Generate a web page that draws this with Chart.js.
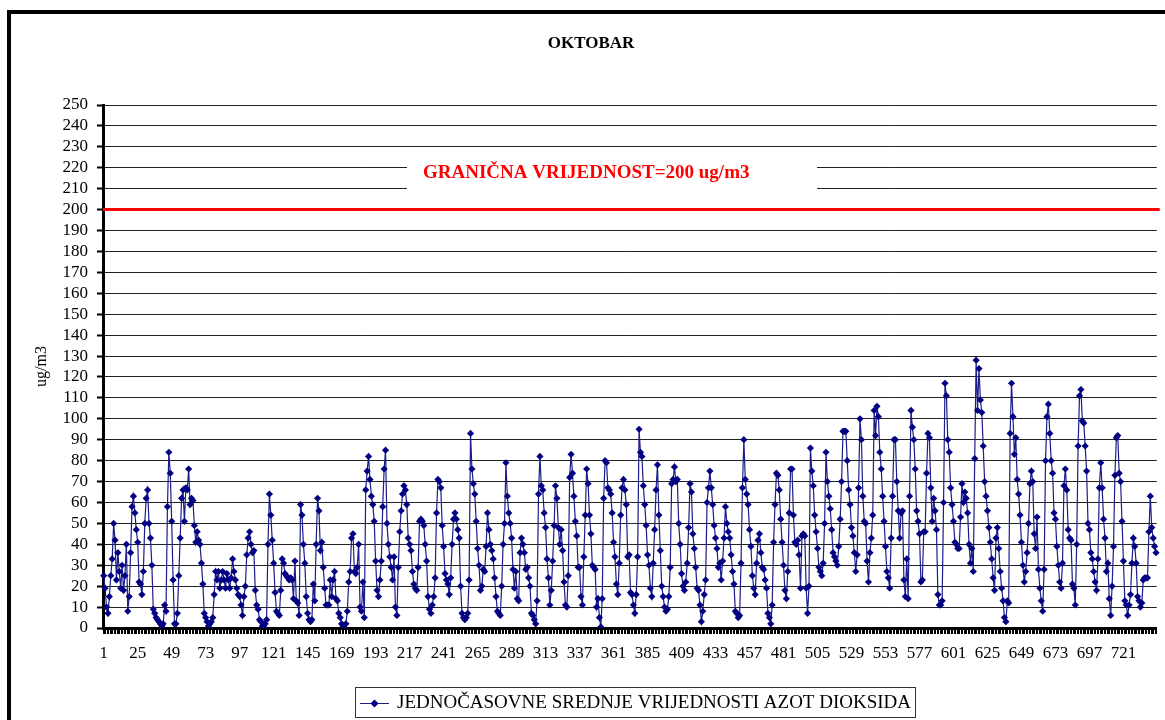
<!DOCTYPE html>
<html><head><meta charset="utf-8">
<script src="https://cdn.jsdelivr.net/npm/chart.js@4.4.1/dist/chart.umd.min.js"></script>
<style>
html,body{margin:0;padding:0;background:#fff;overflow:hidden;}
#wrap{position:relative;width:1165px;height:720px;overflow:hidden;}
#frame{position:absolute;left:7px;top:10px;width:1400px;height:900px;border:4px solid #000;box-sizing:border-box;pointer-events:none;}
canvas{position:absolute;left:0;top:0;}
</style></head><body>
<div id="wrap"><canvas id="c" width="1165" height="720"></canvas><div id="frame"></div></div>
<script>
const FONT = "'Liberation Serif', 'Times New Roman', serif";
const chartTitle = 'OKTOBAR';
const yTitle = 'ug/m3';
const seriesName = 'JEDNOČASOVNE SREDNJE VRIJEDNOSTI AZOT DIOKSIDA';
const limitValue = 200;
const limitLabel = 'GRANIČNA VRIJEDNOST=200 ug/m3';
const tickLabels = [1,25,49,73,97,121,145,169,193,217,241,265,289,313,337,361,385,409,433,457,481,505,529,553,577,601,625,649,673,697,721];

// hourly values (hours 1-744)
const seg1 = [25,19,10,7,15,25,33,50,42,23,36,27,19,30,18,25,40,8,15,36,58,63,55,47,41,22,21,16,27,50,62,66,50,43,30,9,7,5,4,3,2,1,2,11,8,58,84,74,51,23,2,2,7,25,43,62,66,51,67,66,76,59,62,61,49,41,46,42,40,31,21,7,5,3,1,2,3,5];
const seg2 = [16,27,23,27,19,23,27,23,19,26,23,19,24,33,27,23,19,16,15,11,6,15,20,35,43,46,40,36,37,18,11,9,4,3,1,0.5,2,4,40,64,54,42,31,17,8,7,6,18,33,31,26,25,24,23,24,23,14,32,13,12,6,59,54,40,31,15,7,4,3,4,21,13,40,62,56,37,41,29,19,11,11,11,23];
const seg3 = [15,23,27,14,13,7,5,2,1,0,2,8,22,27,43,45,27,26,29,40,10,8,22,5,66,75,82,71,63,59,51,32,18,15,23,32,58,76,85,50,40,34,29,23,34,10,6,29,46,56,64,68,66,59,43,40,37,27,21,19,18,29,51,52,51,49,40,32,15,9,7,11,15,24,55,71,70,67,49,39,26,23,21];
const seg4 = [16,24,40,52,55,52,47,43,20,7,5,4,5,7,23,93,76,69,64,51,38,30,18,20,28,27,39,55,47,40,37,33,24,15,8,7,6,20,40,50,79,63,55,50,43,28,19,27,14,13,36,43,40,36,28,29,24,20,7,6,4,2,13,64,82,68,66,55,48,33,24,11,18,32,49,68,62,48,40,47,37,22,11];
const seg5 = [10,25,72,83,74,63,51,44,29,29,15,11,34,54,76,69,54,45,30,29,28,10,14,5,0.5,14,62,80,79,67,66,64,55,41,34,21,16,31,54,67,71,66,59,34,35,17,16,11,7,16,34,95,84,82,68,59,49,35,30,19,15,31,47,66,78,54,37,20,15,10,8,9,15,29,69,71,77,70,71,50,40,26];
const seg6 = [20,18,22,31,48,69,65,45,38,29,19,18,11,3,8,16,23,60,67,75,67,59,49,43,38,29,31,23,32,43,58,50,46,43,35,27,21,8,7,5,6,31,67,90,71,64,59,47,39,25,19,16,31,42,45,36,29,28,23,19,7,5,2,11,41,59,74,73,66,52,41,30,18,14,27,55,76,76,54,41,40,42,35];
const seg7 = [19,44,45,44,19,7,20,86,75,68,54,46,38,29,27,25,31,50,84,70,63,57,47,36,34,32,30,39,52,70,94,94,94,80,66,59,48,44,36,27,35,67,100,90,63,51,50,32,22,36,43,54,104,92,106,101,84,76,63,51,39,27,24,19,43,63,90,90,70,56,43,55,56,23,15,33,14,63,104,96,90,76,56];
const seg8 = [51,45,22,23,46,46,74,93,91,67,51,62,56,47,16,11,11,13,60,117,111,90,84,67,59,51,41,40,38,38,53,69,60,65,62,55,40,31,38,27,81,128,104,124,109,103,87,70,63,56,48,41,33,24,18,43,48,38,27,19,13,5,3,13,12,93,117,101,83,91,71,64,54,41,30,22,27,36,50,69,75,70,45];
const seg9 = [38,53,28,19,13,8,28,80,101,107,93,80,74,55,52,39,30,22,19,31,68,76,66,47,43,42,21,19,11,40,87,111,114,99,98,87,75,50,47,36,33,27,22,18,33,67,79,67,52,43,27,31,14,6,20,39,73,91,92,74,70,51,32,13,11,6,11,16,31,43,39,31,15,13,10,12,23,24,24,24,46,63,48,43,39,36];

const no2 = [].concat(seg1, seg2, seg3, seg4, seg5, seg6, seg7, seg8, seg9);
const hours = no2.map((_, i) => i + 1);

const decor = {
  id: 'decor',
  beforeDatasetsDraw(chart) {
    const {ctx, chartArea, scales: {y}} = chart;
    ctx.save();
    const boxTop = y.getPixelForValue(228);
    const boxBot = y.getPixelForValue(205);
    ctx.fillStyle = '#fff';
    ctx.fillRect(407, boxTop, 410, boxBot - boxTop);
    ctx.fillStyle = '#ff0000';
    ctx.font = 'bold 19px ' + FONT;
    ctx.textAlign = 'left';
    ctx.textBaseline = 'middle';
    ctx.fillText(limitLabel, 423, y.getPixelForValue(217.5));
    const py = y.getPixelForValue(limitValue);
    ctx.strokeStyle = '#ff0000';
    ctx.lineWidth = 3;
    ctx.beginPath();
    ctx.moveTo(chartArea.left, py);
    ctx.lineTo(chartArea.right + 3, py);
    ctx.stroke();
    ctx.restore();
  },
  afterDraw(chart) {
    const {ctx} = chart;
    ctx.save();
    ctx.fillStyle = '#000';
    ctx.font = 'bold 17px ' + FONT;
    ctx.textAlign = 'center';
    ctx.textBaseline = 'middle';
    ctx.fillText(chartTitle, 591, 44);
    ctx.strokeStyle = '#333';
    ctx.lineWidth = 1;
    ctx.strokeRect(355.5, 687.5, 560, 30);
    ctx.strokeStyle = '#1c1c8a';
    ctx.beginPath(); ctx.moveTo(360, 703.5); ctx.lineTo(389, 703.5); ctx.stroke();
    ctx.fillStyle = '#000080';
    ctx.beginPath();
    ctx.moveTo(374.5, 699.5); ctx.lineTo(378.5, 703.5); ctx.lineTo(374.5, 707.5); ctx.lineTo(370.5, 703.5); ctx.closePath();
    ctx.fill();
    ctx.fillStyle = '#000';
    ctx.font = '19px ' + FONT;
    ctx.textAlign = 'left';
    ctx.textBaseline = 'middle';
    ctx.fillText(seriesName, 397, 703);
    ctx.restore();
  }
};

new Chart(document.getElementById('c'), {
  type: 'line',
  data: {
    labels: hours,
    datasets: [{
      label: seriesName,
      data: no2,
      borderColor: '#1c1c8a',
      borderWidth: 1.2,
      pointStyle: 'rectRot',
      pointRadius: 3.6,
      pointBorderWidth: 0,
      pointBackgroundColor: '#000080',
      tension: 0
    }]
  },
  options: {
    responsive: false,
    animation: false,
    devicePixelRatio: 1,
    layout: { padding: { left: 0, right: 1, top: 105, bottom: 0 } },
    plugins: { legend: { display: false }, tooltip: { enabled: false }, title: { display: false } },
    scales: {
      x: {
        type: 'category',
        offset: true,
        ticks: {
          autoSkip: false, maxRotation: 0, minRotation: 0, padding: 9, color: '#000',
          font: { family: FONT, size: 17 },
          callback(v, i) { const h = hours[i]; return tickLabels.includes(h) ? String(h) : ''; }
        },
        grid: { offset: true, drawOnChartArea: false, drawTicks: true, tickLength: 6, tickColor: '#000', tickWidth: 1 },
        border: { color: '#000', width: 3 },
        afterFit(s) { s.height = 92; }
      },
      y: {
        min: 0, max: 250,
        ticks: { stepSize: 10, autoSkip: false, color: '#000', padding: 9, font: { family: FONT, size: 17, lineHeight: 1 } },
        grid: { color: '#222', lineWidth: 1, tickLength: 6, tickColor: '#000', tickWidth: 2 },
        border: { color: '#000', width: 3 },
        title: { display: true, text: yTitle, color: '#000', font: { family: FONT, size: 16 }, padding: { top: 32 } },
        afterFit(s) { s.width = 103; }
      }
    }
  },
  plugins: [decor]
});
</script>
</body></html>
